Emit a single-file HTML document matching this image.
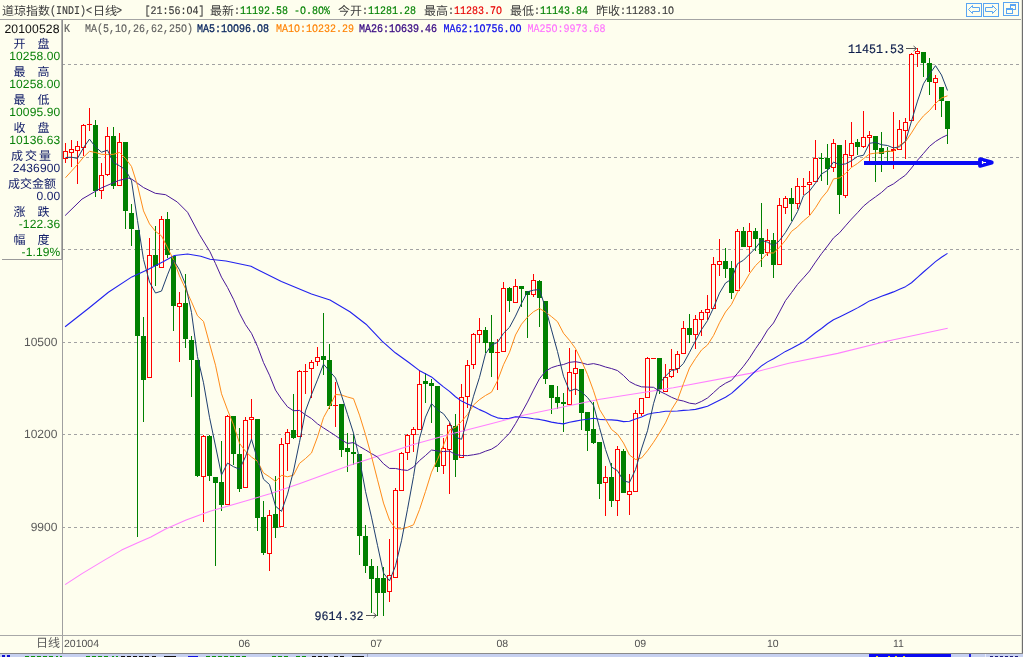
<!DOCTYPE html>
<html><head><meta charset="utf-8"><title>INDI</title>
<style>
html,body{margin:0;padding:0;background:#fefeee;overflow:hidden}
body{width:1023px;height:657px}
svg{display:block;will-change:transform}
text{-webkit-font-smoothing:antialiased;text-rendering:geometricPrecision}
.mo{font-family:"Liberation Mono",monospace;white-space:pre}
.sa{font-family:"Liberation Sans",sans-serif}
.ls{letter-spacing:0.12px}
.cj{font-family:"Liberation Sans","Noto Sans CJK SC",sans-serif}
</style></head><body>
<svg width="1023" height="657" viewBox="0 0 1023 657">
<rect x="0" y="0" width="1023" height="657" fill="#fefeee"/>
<g shape-rendering="crispEdges">
<rect x="0" y="19" width="1021" height="1" fill="#a4a4a4"/>
<line x1="62" x2="1020" y1="64.5" y2="64.5" stroke="#a2a2a2" stroke-width="1" stroke-dasharray="3 3"/>
<line x1="62" x2="1020" y1="157.5" y2="157.5" stroke="#a2a2a2" stroke-width="1" stroke-dasharray="3 3"/>
<line x1="62" x2="1020" y1="249.5" y2="249.5" stroke="#a2a2a2" stroke-width="1" stroke-dasharray="3 3"/>
<line x1="62" x2="1020" y1="342.5" y2="342.5" stroke="#a2a2a2" stroke-width="1" stroke-dasharray="3 3"/>
<line x1="62" x2="1020" y1="434.5" y2="434.5" stroke="#a2a2a2" stroke-width="1" stroke-dasharray="3 3"/>
<line x1="62" x2="1020" y1="527.5" y2="527.5" stroke="#a2a2a2" stroke-width="1" stroke-dasharray="3 3"/>
<rect x="61" y="20" width="1" height="240" fill="#b4b4b0"/><rect x="62" y="20" width="1" height="240" fill="#8c8c8c"/>
<rect x="2" y="259" width="61" height="1" fill="#9a9a9a"/>
<rect x="62" y="260" width="1" height="393" fill="#a0a0a0"/>
<rect x="0" y="635" width="1022" height="1" fill="#a8a8a8"/>
<rect x="1021" y="0" width="1" height="653" fill="#e4e4d8"/>
<rect x="1022" y="0" width="1" height="657" fill="#6e6e6e"/>
<rect x="0" y="653" width="1023" height="1" fill="#8a8a8a"/>
<rect x="0" y="654" width="1023" height="3" fill="#c6d0f0"/>
<rect x="869" y="654" width="82" height="3" fill="#0a0af0"/>
<rect x="969" y="654" width="2" height="3" fill="#2020e0"/>
<rect x="367" y="654" width="1" height="3" fill="#9aa0b8"/>
<rect x="985" y="654" width="1" height="3" fill="#e8ecf8"/>
<rect x="2" y="655" width="3" height="2" fill="#1010d0"/>
<rect x="7" y="655" width="3" height="2" fill="#1010d0"/>
<rect x="25" y="656" width="4" height="1" fill="#109010"/>
<rect x="31" y="656" width="4" height="1" fill="#109010"/>
<rect x="37" y="656" width="4" height="1" fill="#109010"/>
<rect x="43" y="656" width="4" height="1" fill="#109010"/>
<rect x="49" y="656" width="4" height="1" fill="#109010"/>
<rect x="56" y="656" width="2" height="1" fill="#109010"/>
<rect x="60" y="656" width="2" height="1" fill="#109010"/>
<rect x="86" y="656" width="4" height="1" fill="#109010"/>
<rect x="92" y="656" width="4" height="1" fill="#109010"/>
<rect x="98" y="656" width="4" height="1" fill="#109010"/>
<rect x="104" y="656" width="4" height="1" fill="#109010"/>
<rect x="112" y="656" width="2" height="1" fill="#109010"/>
<rect x="116" y="656" width="2" height="1" fill="#109010"/>
<rect x="121" y="656" width="4" height="1" fill="#101010"/>
<rect x="127" y="656" width="4" height="1" fill="#101010"/>
<rect x="133" y="656" width="4" height="1" fill="#101010"/>
<rect x="139" y="656" width="4" height="1" fill="#101010"/>
<rect x="145" y="656" width="4" height="1" fill="#101010"/>
<rect x="152" y="656" width="4" height="1" fill="#101010"/>
<rect x="164" y="656" width="6" height="1" fill="#101010"/>
<rect x="170" y="656" width="6" height="1" fill="#101010"/>
<rect x="188" y="656" width="10" height="1" fill="#1010e0"/>
<rect x="206" y="656" width="4" height="1" fill="#109010"/>
<rect x="212" y="656" width="4" height="1" fill="#109010"/>
<rect x="218" y="656" width="4" height="1" fill="#109010"/>
<rect x="224" y="656" width="4" height="1" fill="#109010"/>
<rect x="230" y="656" width="4" height="1" fill="#109010"/>
<rect x="236" y="656" width="4" height="1" fill="#109010"/>
<rect x="242" y="656" width="4" height="1" fill="#109010"/>
<rect x="272" y="656" width="4" height="1" fill="#109010"/>
<rect x="278" y="656" width="4" height="1" fill="#109010"/>
<rect x="284" y="656" width="4" height="1" fill="#109010"/>
<rect x="296" y="656" width="4" height="1" fill="#109010"/>
<rect x="302" y="656" width="4" height="1" fill="#109010"/>
<rect x="312" y="656" width="4" height="1" fill="#101010"/>
<rect x="318" y="656" width="4" height="1" fill="#101010"/>
<rect x="324" y="656" width="4" height="1" fill="#101010"/>
<rect x="334" y="656" width="4" height="1" fill="#101010"/>
<rect x="340" y="656" width="4" height="1" fill="#101010"/>
<rect x="352" y="656" width="6" height="1" fill="#101010"/>
<rect x="358" y="656" width="6" height="1" fill="#101010"/>
<rect x="876" y="656" width="2" height="1" fill="#f0e020"/>
<rect x="888" y="656" width="2" height="1" fill="#f0e020"/>
<rect x="895" y="656" width="2" height="1" fill="#f0e020"/>
<rect x="903" y="656" width="2" height="1" fill="#f0e020"/>
<rect x="990" y="656" width="3" height="1" fill="#202080"/>
<rect x="995" y="656" width="3" height="1" fill="#202080"/>
<rect x="1000" y="656" width="3" height="1" fill="#202080"/>
<rect x="1005" y="656" width="3" height="1" fill="#202080"/>
<rect x="1010" y="656" width="3" height="1" fill="#202080"/>
<rect x="1015" y="656" width="3" height="1" fill="#202080"/>
</g>
<g shape-rendering="crispEdges">
<rect x="65" y="143" width="1" height="8" fill="#ff0000"/>
<rect x="65" y="159" width="1" height="4" fill="#ff0000"/>
<rect x="63.5" y="151.5" width="4" height="7" fill="#fefeee" stroke="#ff0000" stroke-width="1"/>
<rect x="71" y="140" width="1" height="9" fill="#ff0000"/>
<rect x="71" y="153" width="1" height="14" fill="#ff0000"/>
<rect x="69.5" y="149.5" width="4" height="3" fill="#fefeee" stroke="#ff0000" stroke-width="1"/>
<rect x="77" y="141" width="1" height="5" fill="#ff0000"/>
<rect x="77" y="151" width="1" height="33" fill="#ff0000"/>
<rect x="75.5" y="146.5" width="4" height="4" fill="#fefeee" stroke="#ff0000" stroke-width="1"/>
<rect x="83" y="124" width="1" height="1" fill="#ff0000"/>
<rect x="83" y="148" width="1" height="8" fill="#ff0000"/>
<rect x="81.5" y="125.5" width="4" height="22" fill="#fefeee" stroke="#ff0000" stroke-width="1"/>
<rect x="89" y="108" width="1" height="16" fill="#ff0000"/>
<rect x="89" y="125" width="1" height="6" fill="#ff0000"/>
<rect x="87" y="124" width="5" height="1" fill="#ff0000"/>
<rect x="95" y="120" width="1" height="77" fill="#008000"/>
<rect x="93" y="125" width="5" height="66" fill="#008000"/>
<rect x="101" y="163" width="1" height="12" fill="#ff0000"/>
<rect x="101" y="191" width="1" height="8" fill="#ff0000"/>
<rect x="99.5" y="175.5" width="4" height="15" fill="#fefeee" stroke="#ff0000" stroke-width="1"/>
<rect x="107" y="127" width="1" height="9" fill="#ff0000"/>
<rect x="107" y="175" width="1" height="1" fill="#ff0000"/>
<rect x="105.5" y="136.5" width="4" height="38" fill="#fefeee" stroke="#ff0000" stroke-width="1"/>
<rect x="113" y="127" width="1" height="62" fill="#008000"/>
<rect x="111" y="136" width="5" height="50" fill="#008000"/>
<rect x="119" y="133" width="1" height="9" fill="#ff0000"/>
<rect x="117.5" y="142.5" width="4" height="43" fill="#fefeee" stroke="#ff0000" stroke-width="1"/>
<rect x="125" y="142" width="1" height="87" fill="#008000"/>
<rect x="123" y="142" width="5" height="69" fill="#008000"/>
<rect x="131" y="204" width="1" height="42" fill="#008000"/>
<rect x="129" y="213" width="5" height="16" fill="#008000"/>
<rect x="137" y="230" width="1" height="307" fill="#008000"/>
<rect x="135" y="230" width="5" height="106" fill="#008000"/>
<rect x="143" y="317" width="1" height="105" fill="#008000"/>
<rect x="141" y="336" width="5" height="44" fill="#008000"/>
<rect x="149" y="238" width="1" height="17" fill="#ff0000"/>
<rect x="147.5" y="255.5" width="4" height="122" fill="#fefeee" stroke="#ff0000" stroke-width="1"/>
<rect x="155" y="226" width="1" height="60" fill="#008000"/>
<rect x="153" y="255" width="5" height="11" fill="#008000"/>
<rect x="161" y="216" width="1" height="3" fill="#ff0000"/>
<rect x="159.5" y="219.5" width="4" height="48" fill="#fefeee" stroke="#ff0000" stroke-width="1"/>
<rect x="167" y="212" width="1" height="46" fill="#008000"/>
<rect x="165" y="219" width="5" height="36" fill="#008000"/>
<rect x="173" y="256" width="1" height="75" fill="#008000"/>
<rect x="171" y="256" width="5" height="50" fill="#008000"/>
<rect x="179" y="292" width="1" height="11" fill="#ff0000"/>
<rect x="179" y="307" width="1" height="55" fill="#ff0000"/>
<rect x="177.5" y="303.5" width="4" height="3" fill="#fefeee" stroke="#ff0000" stroke-width="1"/>
<rect x="185" y="274" width="1" height="74" fill="#008000"/>
<rect x="183" y="303" width="5" height="36" fill="#008000"/>
<rect x="191" y="336" width="1" height="61" fill="#008000"/>
<rect x="189" y="340" width="5" height="20" fill="#008000"/>
<rect x="197" y="360" width="1" height="117" fill="#008000"/>
<rect x="195" y="360" width="5" height="116" fill="#008000"/>
<rect x="203" y="435" width="1" height="1" fill="#ff0000"/>
<rect x="203" y="477" width="1" height="45" fill="#ff0000"/>
<rect x="201.5" y="436.5" width="4" height="40" fill="#fefeee" stroke="#ff0000" stroke-width="1"/>
<rect x="209" y="435" width="1" height="46" fill="#008000"/>
<rect x="207" y="436" width="5" height="40" fill="#008000"/>
<rect x="215" y="477" width="1" height="89" fill="#008000"/>
<rect x="213" y="477" width="5" height="6" fill="#008000"/>
<rect x="221" y="441" width="1" height="70" fill="#008000"/>
<rect x="219" y="482" width="5" height="23" fill="#008000"/>
<rect x="227" y="415" width="1" height="1" fill="#ff0000"/>
<rect x="225.5" y="416.5" width="4" height="88" fill="#fefeee" stroke="#ff0000" stroke-width="1"/>
<rect x="233" y="416" width="1" height="49" fill="#008000"/>
<rect x="231" y="416" width="5" height="38" fill="#008000"/>
<rect x="239" y="428" width="1" height="64" fill="#008000"/>
<rect x="237" y="454" width="5" height="35" fill="#008000"/>
<rect x="245" y="417" width="1" height="3" fill="#ff0000"/>
<rect x="243.5" y="420.5" width="4" height="67" fill="#fefeee" stroke="#ff0000" stroke-width="1"/>
<rect x="251" y="399" width="1" height="18" fill="#ff0000"/>
<rect x="251" y="420" width="1" height="20" fill="#ff0000"/>
<rect x="249.5" y="417.5" width="4" height="2" fill="#fefeee" stroke="#ff0000" stroke-width="1"/>
<rect x="257" y="419" width="1" height="112" fill="#008000"/>
<rect x="255" y="419" width="5" height="99" fill="#008000"/>
<rect x="263" y="501" width="1" height="54" fill="#008000"/>
<rect x="261" y="517" width="5" height="36" fill="#008000"/>
<rect x="269" y="510" width="1" height="5" fill="#ff0000"/>
<rect x="269" y="554" width="1" height="17" fill="#ff0000"/>
<rect x="267.5" y="515.5" width="4" height="38" fill="#fefeee" stroke="#ff0000" stroke-width="1"/>
<rect x="275" y="476" width="1" height="62" fill="#008000"/>
<rect x="273" y="514" width="5" height="14" fill="#008000"/>
<rect x="281" y="438" width="1" height="6" fill="#ff0000"/>
<rect x="279.5" y="444.5" width="4" height="82" fill="#fefeee" stroke="#ff0000" stroke-width="1"/>
<rect x="287" y="429" width="1" height="3" fill="#ff0000"/>
<rect x="287" y="444" width="1" height="27" fill="#ff0000"/>
<rect x="285.5" y="432.5" width="4" height="11" fill="#fefeee" stroke="#ff0000" stroke-width="1"/>
<rect x="293" y="394" width="1" height="45" fill="#008000"/>
<rect x="291" y="430" width="5" height="8" fill="#008000"/>
<rect x="299" y="370" width="1" height="1" fill="#ff0000"/>
<rect x="297.5" y="371.5" width="4" height="65" fill="#fefeee" stroke="#ff0000" stroke-width="1"/>
<rect x="305" y="364" width="1" height="7" fill="#ff0000"/>
<rect x="305" y="372" width="1" height="22" fill="#ff0000"/>
<rect x="303" y="371" width="5" height="1" fill="#ff0000"/>
<rect x="311" y="360" width="1" height="2" fill="#ff0000"/>
<rect x="311" y="369" width="1" height="29" fill="#ff0000"/>
<rect x="309.5" y="362.5" width="4" height="6" fill="#fefeee" stroke="#ff0000" stroke-width="1"/>
<rect x="317" y="347" width="1" height="10" fill="#ff0000"/>
<rect x="317" y="362" width="1" height="4" fill="#ff0000"/>
<rect x="315.5" y="357.5" width="4" height="4" fill="#fefeee" stroke="#ff0000" stroke-width="1"/>
<rect x="323" y="313" width="1" height="62" fill="#008000"/>
<rect x="321" y="356" width="5" height="4" fill="#008000"/>
<rect x="329" y="344" width="1" height="65" fill="#008000"/>
<rect x="327" y="360" width="5" height="46" fill="#008000"/>
<rect x="335" y="382" width="1" height="23" fill="#ff0000"/>
<rect x="335" y="406" width="1" height="21" fill="#ff0000"/>
<rect x="333" y="405" width="5" height="1" fill="#ff0000"/>
<rect x="341" y="404" width="1" height="53" fill="#008000"/>
<rect x="339" y="404" width="5" height="46" fill="#008000"/>
<rect x="347" y="433" width="1" height="39" fill="#008000"/>
<rect x="345" y="448" width="5" height="4" fill="#008000"/>
<rect x="353" y="434" width="1" height="31" fill="#008000"/>
<rect x="351" y="452" width="5" height="2" fill="#008000"/>
<rect x="359" y="454" width="1" height="101" fill="#008000"/>
<rect x="357" y="454" width="5" height="82" fill="#008000"/>
<rect x="365" y="525" width="1" height="48" fill="#008000"/>
<rect x="363" y="536" width="5" height="30" fill="#008000"/>
<rect x="371" y="559" width="1" height="54" fill="#008000"/>
<rect x="369" y="566" width="5" height="13" fill="#008000"/>
<rect x="377" y="566" width="1" height="50" fill="#008000"/>
<rect x="375" y="578" width="5" height="15" fill="#008000"/>
<rect x="383" y="567" width="1" height="49" fill="#008000"/>
<rect x="381" y="578" width="5" height="15" fill="#008000"/>
<rect x="389" y="539" width="1" height="36" fill="#ff0000"/>
<rect x="389" y="592" width="1" height="10" fill="#ff0000"/>
<rect x="387.5" y="575.5" width="4" height="16" fill="#fefeee" stroke="#ff0000" stroke-width="1"/>
<rect x="395" y="488" width="1" height="2" fill="#ff0000"/>
<rect x="393.5" y="490.5" width="4" height="87" fill="#fefeee" stroke="#ff0000" stroke-width="1"/>
<rect x="401" y="452" width="1" height="1" fill="#ff0000"/>
<rect x="399.5" y="453.5" width="4" height="37" fill="#fefeee" stroke="#ff0000" stroke-width="1"/>
<rect x="407" y="434" width="1" height="1" fill="#ff0000"/>
<rect x="407" y="453" width="1" height="7" fill="#ff0000"/>
<rect x="405.5" y="435.5" width="4" height="17" fill="#fefeee" stroke="#ff0000" stroke-width="1"/>
<rect x="413" y="427" width="1" height="2" fill="#ff0000"/>
<rect x="413" y="435" width="1" height="17" fill="#ff0000"/>
<rect x="411.5" y="429.5" width="4" height="5" fill="#fefeee" stroke="#ff0000" stroke-width="1"/>
<rect x="419" y="370" width="1" height="14" fill="#ff0000"/>
<rect x="417.5" y="384.5" width="4" height="45" fill="#fefeee" stroke="#ff0000" stroke-width="1"/>
<rect x="425" y="373" width="1" height="30" fill="#008000"/>
<rect x="423" y="381" width="5" height="3" fill="#008000"/>
<rect x="431" y="379" width="1" height="44" fill="#008000"/>
<rect x="429" y="383" width="5" height="3" fill="#008000"/>
<rect x="437" y="386" width="1" height="86" fill="#008000"/>
<rect x="435" y="386" width="5" height="81" fill="#008000"/>
<rect x="443" y="438" width="1" height="10" fill="#ff0000"/>
<rect x="443" y="466" width="1" height="8" fill="#ff0000"/>
<rect x="441.5" y="448.5" width="4" height="17" fill="#fefeee" stroke="#ff0000" stroke-width="1"/>
<rect x="449" y="423" width="1" height="2" fill="#ff0000"/>
<rect x="449" y="450" width="1" height="44" fill="#ff0000"/>
<rect x="447.5" y="425.5" width="4" height="24" fill="#fefeee" stroke="#ff0000" stroke-width="1"/>
<rect x="455" y="414" width="1" height="63" fill="#008000"/>
<rect x="453" y="426" width="5" height="34" fill="#008000"/>
<rect x="461" y="384" width="1" height="13" fill="#ff0000"/>
<rect x="459.5" y="397.5" width="4" height="60" fill="#fefeee" stroke="#ff0000" stroke-width="1"/>
<rect x="467" y="360" width="1" height="5" fill="#ff0000"/>
<rect x="467" y="397" width="1" height="11" fill="#ff0000"/>
<rect x="465.5" y="365.5" width="4" height="31" fill="#fefeee" stroke="#ff0000" stroke-width="1"/>
<rect x="473" y="333" width="1" height="1" fill="#ff0000"/>
<rect x="473" y="365" width="1" height="4" fill="#ff0000"/>
<rect x="471.5" y="334.5" width="4" height="30" fill="#fefeee" stroke="#ff0000" stroke-width="1"/>
<rect x="479" y="318" width="1" height="12" fill="#ff0000"/>
<rect x="479" y="335" width="1" height="8" fill="#ff0000"/>
<rect x="477.5" y="330.5" width="4" height="4" fill="#fefeee" stroke="#ff0000" stroke-width="1"/>
<rect x="485" y="327" width="1" height="26" fill="#008000"/>
<rect x="483" y="330" width="5" height="13" fill="#008000"/>
<rect x="491" y="315" width="1" height="62" fill="#008000"/>
<rect x="489" y="342" width="5" height="11" fill="#008000"/>
<rect x="497" y="339" width="1" height="13" fill="#ff0000"/>
<rect x="497" y="353" width="1" height="37" fill="#ff0000"/>
<rect x="495" y="352" width="5" height="1" fill="#ff0000"/>
<rect x="503" y="282" width="1" height="6" fill="#ff0000"/>
<rect x="501.5" y="288.5" width="4" height="63" fill="#fefeee" stroke="#ff0000" stroke-width="1"/>
<rect x="509" y="287" width="1" height="25" fill="#008000"/>
<rect x="507" y="288" width="5" height="13" fill="#008000"/>
<rect x="515" y="279" width="1" height="7" fill="#ff0000"/>
<rect x="513.5" y="286.5" width="4" height="16" fill="#fefeee" stroke="#ff0000" stroke-width="1"/>
<rect x="521" y="286" width="1" height="21" fill="#008000"/>
<rect x="519" y="286" width="5" height="3" fill="#008000"/>
<rect x="527" y="291" width="1" height="47" fill="#008000"/>
<rect x="525" y="291" width="5" height="4" fill="#008000"/>
<rect x="533" y="274" width="1" height="6" fill="#ff0000"/>
<rect x="533" y="295" width="1" height="2" fill="#ff0000"/>
<rect x="531.5" y="280.5" width="4" height="14" fill="#fefeee" stroke="#ff0000" stroke-width="1"/>
<rect x="539" y="280" width="1" height="47" fill="#008000"/>
<rect x="537" y="281" width="5" height="17" fill="#008000"/>
<rect x="545" y="301" width="1" height="83" fill="#008000"/>
<rect x="543" y="301" width="5" height="78" fill="#008000"/>
<rect x="551" y="385" width="1" height="29" fill="#008000"/>
<rect x="549" y="385" width="5" height="13" fill="#008000"/>
<rect x="557" y="386" width="1" height="23" fill="#008000"/>
<rect x="555" y="397" width="5" height="6" fill="#008000"/>
<rect x="563" y="393" width="1" height="39" fill="#008000"/>
<rect x="561" y="402" width="5" height="2" fill="#008000"/>
<rect x="569" y="348" width="1" height="24" fill="#ff0000"/>
<rect x="567.5" y="372.5" width="4" height="32" fill="#fefeee" stroke="#ff0000" stroke-width="1"/>
<rect x="575" y="350" width="1" height="18" fill="#ff0000"/>
<rect x="575" y="374" width="1" height="21" fill="#ff0000"/>
<rect x="573.5" y="368.5" width="4" height="5" fill="#fefeee" stroke="#ff0000" stroke-width="1"/>
<rect x="581" y="369" width="1" height="61" fill="#008000"/>
<rect x="579" y="369" width="5" height="44" fill="#008000"/>
<rect x="587" y="412" width="1" height="39" fill="#008000"/>
<rect x="585" y="412" width="5" height="19" fill="#008000"/>
<rect x="593" y="402" width="1" height="42" fill="#008000"/>
<rect x="591" y="429" width="5" height="14" fill="#008000"/>
<rect x="599" y="442" width="1" height="57" fill="#008000"/>
<rect x="597" y="442" width="5" height="42" fill="#008000"/>
<rect x="605" y="466" width="1" height="11" fill="#ff0000"/>
<rect x="605" y="483" width="1" height="33" fill="#ff0000"/>
<rect x="603.5" y="477.5" width="4" height="5" fill="#fefeee" stroke="#ff0000" stroke-width="1"/>
<rect x="611" y="463" width="1" height="44" fill="#008000"/>
<rect x="609" y="477" width="5" height="24" fill="#008000"/>
<rect x="617" y="446" width="1" height="3" fill="#ff0000"/>
<rect x="617" y="501" width="1" height="15" fill="#ff0000"/>
<rect x="615.5" y="449.5" width="4" height="51" fill="#fefeee" stroke="#ff0000" stroke-width="1"/>
<rect x="623" y="449" width="1" height="44" fill="#008000"/>
<rect x="621" y="451" width="5" height="42" fill="#008000"/>
<rect x="629" y="474" width="1" height="17" fill="#ff0000"/>
<rect x="629" y="495" width="1" height="20" fill="#ff0000"/>
<rect x="627.5" y="491.5" width="4" height="3" fill="#fefeee" stroke="#ff0000" stroke-width="1"/>
<rect x="635" y="410" width="1" height="3" fill="#ff0000"/>
<rect x="633.5" y="413.5" width="4" height="78" fill="#fefeee" stroke="#ff0000" stroke-width="1"/>
<rect x="641" y="414" width="1" height="2" fill="#ff0000"/>
<rect x="639.5" y="398.5" width="4" height="15" fill="#fefeee" stroke="#ff0000" stroke-width="1"/>
<rect x="647" y="357" width="1" height="1" fill="#ff0000"/>
<rect x="645.5" y="358.5" width="4" height="39" fill="#fefeee" stroke="#ff0000" stroke-width="1"/>
<rect x="651" y="358" width="5" height="1" fill="#ff0000"/>
<rect x="659" y="358" width="1" height="36" fill="#008000"/>
<rect x="657" y="358" width="5" height="32" fill="#008000"/>
<rect x="665" y="364" width="1" height="13" fill="#ff0000"/>
<rect x="663.5" y="377.5" width="4" height="14" fill="#fefeee" stroke="#ff0000" stroke-width="1"/>
<rect x="671" y="349" width="1" height="20" fill="#ff0000"/>
<rect x="671" y="377" width="1" height="1" fill="#ff0000"/>
<rect x="669.5" y="369.5" width="4" height="7" fill="#fefeee" stroke="#ff0000" stroke-width="1"/>
<rect x="677" y="351" width="1" height="3" fill="#ff0000"/>
<rect x="677" y="369" width="1" height="4" fill="#ff0000"/>
<rect x="675.5" y="354.5" width="4" height="14" fill="#fefeee" stroke="#ff0000" stroke-width="1"/>
<rect x="683" y="321" width="1" height="7" fill="#ff0000"/>
<rect x="681.5" y="328.5" width="4" height="25" fill="#fefeee" stroke="#ff0000" stroke-width="1"/>
<rect x="689" y="314" width="1" height="29" fill="#008000"/>
<rect x="687" y="328" width="5" height="7" fill="#008000"/>
<rect x="695" y="315" width="1" height="4" fill="#ff0000"/>
<rect x="695" y="335" width="1" height="14" fill="#ff0000"/>
<rect x="693.5" y="319.5" width="4" height="15" fill="#fefeee" stroke="#ff0000" stroke-width="1"/>
<rect x="701" y="310" width="1" height="2" fill="#ff0000"/>
<rect x="701" y="320" width="1" height="16" fill="#ff0000"/>
<rect x="699.5" y="312.5" width="4" height="7" fill="#fefeee" stroke="#ff0000" stroke-width="1"/>
<rect x="707" y="295" width="1" height="14" fill="#ff0000"/>
<rect x="707" y="313" width="1" height="7" fill="#ff0000"/>
<rect x="705.5" y="309.5" width="4" height="3" fill="#fefeee" stroke="#ff0000" stroke-width="1"/>
<rect x="713" y="257" width="1" height="7" fill="#ff0000"/>
<rect x="711.5" y="264.5" width="4" height="44" fill="#fefeee" stroke="#ff0000" stroke-width="1"/>
<rect x="719" y="239" width="1" height="22" fill="#ff0000"/>
<rect x="719" y="265" width="1" height="11" fill="#ff0000"/>
<rect x="717.5" y="261.5" width="4" height="3" fill="#fefeee" stroke="#ff0000" stroke-width="1"/>
<rect x="725" y="248" width="1" height="30" fill="#008000"/>
<rect x="723" y="261" width="5" height="8" fill="#008000"/>
<rect x="731" y="261" width="1" height="38" fill="#008000"/>
<rect x="729" y="268" width="5" height="25" fill="#008000"/>
<rect x="737" y="229" width="1" height="2" fill="#ff0000"/>
<rect x="735.5" y="231.5" width="4" height="59" fill="#fefeee" stroke="#ff0000" stroke-width="1"/>
<rect x="743" y="227" width="1" height="20" fill="#008000"/>
<rect x="741" y="231" width="5" height="16" fill="#008000"/>
<rect x="749" y="223" width="1" height="8" fill="#ff0000"/>
<rect x="749" y="247" width="1" height="25" fill="#ff0000"/>
<rect x="747.5" y="231.5" width="4" height="15" fill="#fefeee" stroke="#ff0000" stroke-width="1"/>
<rect x="755" y="228" width="1" height="23" fill="#008000"/>
<rect x="753" y="231" width="5" height="8" fill="#008000"/>
<rect x="761" y="203" width="1" height="64" fill="#008000"/>
<rect x="759" y="238" width="5" height="16" fill="#008000"/>
<rect x="767" y="229" width="1" height="11" fill="#ff0000"/>
<rect x="767" y="253" width="1" height="3" fill="#ff0000"/>
<rect x="765.5" y="240.5" width="4" height="12" fill="#fefeee" stroke="#ff0000" stroke-width="1"/>
<rect x="773" y="233" width="1" height="45" fill="#008000"/>
<rect x="771" y="240" width="5" height="25" fill="#008000"/>
<rect x="779" y="198" width="1" height="7" fill="#ff0000"/>
<rect x="777.5" y="205.5" width="4" height="59" fill="#fefeee" stroke="#ff0000" stroke-width="1"/>
<rect x="785" y="196" width="1" height="2" fill="#ff0000"/>
<rect x="785" y="208" width="1" height="6" fill="#ff0000"/>
<rect x="783.5" y="198.5" width="4" height="9" fill="#fefeee" stroke="#ff0000" stroke-width="1"/>
<rect x="791" y="188" width="1" height="33" fill="#008000"/>
<rect x="789" y="198" width="5" height="6" fill="#008000"/>
<rect x="797" y="178" width="1" height="8" fill="#ff0000"/>
<rect x="797" y="204" width="1" height="5" fill="#ff0000"/>
<rect x="795.5" y="186.5" width="4" height="17" fill="#fefeee" stroke="#ff0000" stroke-width="1"/>
<rect x="803" y="178" width="1" height="8" fill="#ff0000"/>
<rect x="803" y="187" width="1" height="8" fill="#ff0000"/>
<rect x="801" y="186" width="5" height="1" fill="#ff0000"/>
<rect x="809" y="171" width="1" height="11" fill="#ff0000"/>
<rect x="809" y="185" width="1" height="30" fill="#ff0000"/>
<rect x="807.5" y="182.5" width="4" height="2" fill="#fefeee" stroke="#ff0000" stroke-width="1"/>
<rect x="815" y="140" width="1" height="18" fill="#ff0000"/>
<rect x="813.5" y="158.5" width="4" height="23" fill="#fefeee" stroke="#ff0000" stroke-width="1"/>
<rect x="821" y="153" width="1" height="28" fill="#008000"/>
<rect x="819" y="158" width="5" height="1" fill="#008000"/>
<rect x="827" y="144" width="1" height="41" fill="#008000"/>
<rect x="825" y="158" width="5" height="11" fill="#008000"/>
<rect x="833" y="139" width="1" height="4" fill="#ff0000"/>
<rect x="833" y="168" width="1" height="4" fill="#ff0000"/>
<rect x="831.5" y="143.5" width="4" height="24" fill="#fefeee" stroke="#ff0000" stroke-width="1"/>
<rect x="839" y="145" width="1" height="69" fill="#008000"/>
<rect x="837" y="145" width="5" height="50" fill="#008000"/>
<rect x="845" y="140" width="1" height="14" fill="#ff0000"/>
<rect x="845" y="196" width="1" height="2" fill="#ff0000"/>
<rect x="843.5" y="154.5" width="4" height="41" fill="#fefeee" stroke="#ff0000" stroke-width="1"/>
<rect x="851" y="122" width="1" height="21" fill="#ff0000"/>
<rect x="851" y="156" width="1" height="11" fill="#ff0000"/>
<rect x="849.5" y="143.5" width="4" height="12" fill="#fefeee" stroke="#ff0000" stroke-width="1"/>
<rect x="857" y="139" width="1" height="16" fill="#008000"/>
<rect x="855" y="142" width="5" height="5" fill="#008000"/>
<rect x="863" y="111" width="1" height="26" fill="#ff0000"/>
<rect x="863" y="147" width="1" height="1" fill="#ff0000"/>
<rect x="861.5" y="137.5" width="4" height="9" fill="#fefeee" stroke="#ff0000" stroke-width="1"/>
<rect x="869" y="131" width="1" height="4" fill="#ff0000"/>
<rect x="869" y="138" width="1" height="23" fill="#ff0000"/>
<rect x="867.5" y="135.5" width="4" height="2" fill="#fefeee" stroke="#ff0000" stroke-width="1"/>
<rect x="875" y="136" width="1" height="46" fill="#008000"/>
<rect x="873" y="136" width="5" height="14" fill="#008000"/>
<rect x="881" y="132" width="1" height="40" fill="#008000"/>
<rect x="879" y="148" width="5" height="6" fill="#008000"/>
<rect x="887" y="147" width="1" height="14" fill="#008000"/>
<rect x="885" y="151" width="5" height="1" fill="#008000"/>
<rect x="893" y="112" width="1" height="37" fill="#ff0000"/>
<rect x="893" y="151" width="1" height="18" fill="#ff0000"/>
<rect x="891.5" y="149.5" width="4" height="1" fill="#fefeee" stroke="#ff0000" stroke-width="1"/>
<rect x="899" y="120" width="1" height="9" fill="#ff0000"/>
<rect x="897.5" y="129.5" width="4" height="20" fill="#fefeee" stroke="#ff0000" stroke-width="1"/>
<rect x="905" y="118" width="1" height="4" fill="#ff0000"/>
<rect x="905" y="131" width="1" height="28" fill="#ff0000"/>
<rect x="903.5" y="122.5" width="4" height="8" fill="#fefeee" stroke="#ff0000" stroke-width="1"/>
<rect x="911" y="53" width="1" height="1" fill="#ff0000"/>
<rect x="909.5" y="54.5" width="4" height="66" fill="#fefeee" stroke="#ff0000" stroke-width="1"/>
<rect x="917" y="48" width="1" height="3" fill="#ff0000"/>
<rect x="917" y="54" width="1" height="13" fill="#ff0000"/>
<rect x="915.5" y="51.5" width="4" height="2" fill="#fefeee" stroke="#ff0000" stroke-width="1"/>
<rect x="923" y="52" width="1" height="25" fill="#008000"/>
<rect x="921" y="52" width="5" height="11" fill="#008000"/>
<rect x="929" y="58" width="1" height="37" fill="#008000"/>
<rect x="927" y="63" width="5" height="19" fill="#008000"/>
<rect x="935" y="75" width="1" height="3" fill="#ff0000"/>
<rect x="935" y="83" width="1" height="27" fill="#ff0000"/>
<rect x="933.5" y="78.5" width="4" height="4" fill="#fefeee" stroke="#ff0000" stroke-width="1"/>
<rect x="941" y="87" width="1" height="30" fill="#008000"/>
<rect x="939" y="87" width="5" height="14" fill="#008000"/>
<rect x="947" y="101" width="1" height="43" fill="#008000"/>
<rect x="945" y="101" width="5" height="28" fill="#008000"/>
</g>
<polyline fill="none" stroke="#ff80ff" stroke-width="1.1" stroke-linejoin="round" points="65.1,584.6 82,573.6 104,560.4 121.6,550.1 137.7,542.8 150.9,536.9 165.6,528.9 186.1,520.1 210,511.3 249,500 270,493.8 300,483.5 350,465.2 413.3,444.5 450,434.3 490,424 523.3,415.2 600,399.3 673.3,387.7 750,373.4 788.9,363.2 837.7,353.4 886.6,341.2 947.7,328.2"/>
<polyline fill="none" stroke="#2222ee" stroke-width="1.1" stroke-linejoin="round" points="65.1,326.7 89.3,307.7 108.4,292.3 131.8,276.9 148,269.5 162.6,262.1 174.4,255.5 187.6,254 200.8,256.2 210,259.2 226,261 251,266.3 281.4,281.4 311.5,293.9 330,300 349.9,311.7 366,324.2 382.1,341.1 395.3,352.8 408.5,362.3 420.2,371.1 431.5,376.9 437.5,381.99 443.5,386.82 449.5,391.32 455.5,396.72 461.5,401.11 467.5,403.92 473.5,406.5 479.5,409.63 485.5,412.16 491.5,415.56 497.5,417.85 503.5,418.8 509.5,418.23 515.5,416.73 521.5,417.28 527.5,417.75 533.5,418.73 539.5,419.42 545.5,420.6 551.5,422.13 557.5,423.16 563.5,423.87 569.5,422.19 575.5,421.1 581.5,420.08 587.5,419.25 593.5,418.25 599.5,419.33 605.5,419.71 611.5,419.9 617.5,420.38 623.5,421.61 629.5,421.18 635.5,418.93 641.5,417.03 647.5,414.3 653.5,412.93 659.5,412.25 665.5,411.27 671.5,411.23 677.5,410.95 683.5,410.41 689.5,410.05 695.5,409.39 701.5,407.89 707.5,406.33 713.5,403.35 719.5,400.28 725.5,397.3 731.5,393.37 737.5,387.98 743.5,382.62 749.5,376.8 755.5,371.09 761.5,365.91 767.5,361.88 773.5,358.83 779.5,355.13 785.5,351.4 791.5,348.49 797.5,345.3 803.5,342.07 809.5,337.48 815.5,332.8 821.5,328.49 827.5,323.8 833.5,319.71 839.5,316.96 845.5,314.06 851.5,311.03 857.5,307.88 863.5,304.41 869.5,300.9 875.5,298.67 881.5,296.3 887.5,294.13 893.5,291.88 899.5,289.21 905.5,286.65 911.5,282.72 917.5,277.43 923.5,272.03 929.5,266.85 935.5,261.6 941.5,257.23 947.5,253.36"/>
<polyline fill="none" stroke="#4a1898" stroke-width="1.0" stroke-linejoin="round" points="65.1,215.6 82,199.1 101,188.1 118.6,180.5 128.9,178.1 131.8,179.2 143.6,187.6 155.3,193.3 165.6,194.7 177.3,202 187.6,212.3 199.3,234.3 210,251.8 215.5,263.57 221.5,277.17 227.5,287.44 233.5,299.3 239.5,313.28 245.5,324.63 251.5,333.34 257.5,346.53 263.5,362.55 269.5,375.23 275.5,390.08 281.5,399.03 287.5,406.82 293.5,410.72 299.5,410.4 305.5,414.87 311.5,418.57 317.5,423.87 323.5,427.9 329.5,431.75 335.5,435.65 341.5,439.91 347.5,443.44 353.5,442.59 359.5,446.44 365.5,449.9 371.5,453.6 377.5,456.97 383.5,463.75 389.5,468.41 395.5,468.46 401.5,469.76 407.5,470.44 413.5,467.04 419.5,460.55 425.5,455.5 431.5,450.04 437.5,450.93 443.5,451.58 449.5,451.1 455.5,454.52 461.5,455.5 467.5,455.63 473.5,454.75 479.5,453.62 485.5,451.19 491.5,449.18 497.5,445.45 503.5,439.17 509.5,433.28 515.5,423.67 521.5,413.03 527.5,402.1 533.5,390.1 539.5,378.75 545.5,371.22 551.5,367.66 557.5,365.72 563.5,364.53 569.5,362.32 575.5,361.7 581.5,362.82 587.5,364.54 593.5,363.62 599.5,364.98 605.5,366.99 611.5,368.56 617.5,370.59 623.5,375.51 629.5,381.55 635.5,384.74 641.5,386.85 647.5,387.07 653.5,387.3 659.5,391.2 665.5,394.12 671.5,397.28 677.5,399.77 683.5,401.07 689.5,403.17 695.5,404 701.5,401.42 707.5,397.99 713.5,392.67 719.5,387.18 725.5,383.22 731.5,380.32 737.5,373.33 743.5,366.26 749.5,358.13 755.5,348.71 761.5,340.12 767.5,330.1 773.5,323 779.5,311.91 785.5,300.64 791.5,292.58 797.5,284.46 803.5,277.81 809.5,271.02 815.5,262.11 821.5,253.7 827.5,246.02 833.5,237.93 839.5,232.8 845.5,225.85 851.5,219.06 857.5,212.72 863.5,206.13 869.5,201.16 875.5,196.87 881.5,192.46 887.5,187.02 893.5,183.87 899.5,179.35 905.5,175.13 911.5,168.02 917.5,160.23 923.5,153.4 929.5,146.37 935.5,141.49 941.5,137.75 947.5,134.86"/>
<polyline fill="none" stroke="#ff8c1a" stroke-width="1.0" stroke-linejoin="round" points="65.5,177.7 71.5,171.1 77.5,164.5 83.5,157.2 89.5,151.3 95.5,152.5 101.5,154.3 107.5,154.5 113.5,154.3 119.5,152.48 125.5,158.43 131.5,166.44 137.5,185.44 143.5,210.88 149.5,223.91 155.5,231.4 161.5,235.88 167.5,247.74 173.5,259.74 179.5,275.92 185.5,288.73 191.5,301.8 197.5,315.77 203.5,321.43 209.5,343.55 215.5,365.21 221.5,393.76 227.5,409.88 233.5,424.73 239.5,443.27 245.5,451.33 251.5,457.08 257.5,461.27 263.5,472.94 269.5,476.9 275.5,481.41 281.5,475.28 287.5,476.81 293.5,475.15 299.5,463.39 305.5,458.52 311.5,452.99 317.5,436.96 323.5,417.65 329.5,406.69 335.5,394.41 341.5,395.01 347.5,397.02 353.5,398.63 359.5,415.15 365.5,434.62 371.5,456.29 377.5,479.81 383.5,503.08 389.5,520.04 395.5,528.57 401.5,528.95 407.5,527.29 413.5,524.83 419.5,509.63 425.5,491.46 431.5,472.17 437.5,459.59 443.5,445.16 449.5,430.15 455.5,427.13 461.5,421.45 467.5,414.49 473.5,405 479.5,399.61 485.5,395.49 491.5,392.18 497.5,380.74 503.5,364.75 509.5,352.31 515.5,334.96 521.5,324.19 527.5,317.11 533.5,311.72 539.5,308.44 545.5,312.11 551.5,316.61 557.5,321.66 563.5,333.23 569.5,340.32 575.5,348.51 581.5,360.91 587.5,374.51 593.5,390.75 599.5,409.35 605.5,419.16 611.5,429.46 617.5,434.11 623.5,443.05 629.5,455 635.5,459.5 641.5,457.97 647.5,450.74 653.5,442.3 659.5,432.93 665.5,422.86 671.5,409.65 677.5,400.07 683.5,383.56 689.5,367.93 695.5,358.52 701.5,349.99 707.5,345.01 713.5,335.62 719.5,322.76 725.5,311.97 731.5,304.39 737.5,292.17 743.5,284.01 749.5,273.65 755.5,265.6 761.5,259.78 767.5,252.94 773.5,252.97 779.5,247.36 785.5,240.3 791.5,231.4 797.5,226.89 803.5,220.77 809.5,215.8 815.5,207.77 821.5,198.18 827.5,191.04 833.5,178.91 839.5,177.87 845.5,173.48 851.5,167.36 857.5,163.48 863.5,158.64 869.5,154 875.5,153.12 881.5,152.74 887.5,151 893.5,151.59 899.5,145.04 905.5,141.76 911.5,132.89 917.5,123.29 923.5,115.85 929.5,110.51 935.5,103.39 941.5,98.04 947.5,95.79"/>
<polyline fill="none" stroke="#1f3f6f" stroke-width="1.0" stroke-linejoin="round" points="65.5,157.5 71.5,157.2 77.5,158.4 83.5,147.7 89.5,139.14 95.5,147.08 101.5,152.18 107.5,150.26 113.5,162.36 119.5,165.82 125.5,169.78 131.5,180.7 137.5,220.62 143.5,259.4 149.5,282 155.5,293.02 161.5,291.06 167.5,274.86 173.5,260.08 179.5,269.84 185.5,284.44 191.5,312.54 197.5,356.68 203.5,382.78 209.5,417.26 215.5,445.98 221.5,474.98 227.5,463.08 233.5,466.68 239.5,469.28 245.5,456.68 251.5,439.18 257.5,459.46 263.5,479.2 269.5,484.52 275.5,506.14 281.5,511.38 287.5,494.16 293.5,471.1 299.5,442.26 305.5,410.9 311.5,394.6 317.5,379.76 323.5,364.2 329.5,371.12 335.5,377.92 341.5,395.42 347.5,414.28 353.5,433.06 359.5,459.18 365.5,491.32 371.5,517.16 377.5,545.34 383.5,573.1 389.5,580.9 395.5,565.82 401.5,540.74 407.5,509.24 413.5,476.56 419.5,438.36 425.5,417.1 431.5,403.6 437.5,409.94 443.5,413.76 449.5,421.94 455.5,437.16 461.5,439.3 467.5,419.04 473.5,396.24 479.5,377.28 485.5,353.82 491.5,345.06 497.5,342.44 503.5,333.26 509.5,327.34 515.5,316.1 521.5,303.32 527.5,291.78 533.5,290.18 539.5,289.54 545.5,308.12 551.5,329.9 557.5,351.54 563.5,376.28 569.5,391.1 575.5,388.9 581.5,391.92 587.5,397.48 593.5,405.22 599.5,427.6 605.5,449.42 611.5,467 617.5,470.74 623.5,480.88 629.5,482.4 635.5,469.58 641.5,448.94 647.5,430.74 653.5,403.72 659.5,383.46 665.5,376.14 671.5,370.36 677.5,369.4 683.5,363.4 689.5,352.4 695.5,340.9 701.5,329.62 707.5,320.62 713.5,307.84 719.5,293.12 725.5,283.04 731.5,279.16 737.5,263.72 743.5,260.18 749.5,254.18 755.5,248.16 761.5,240.4 767.5,242.16 773.5,245.76 779.5,240.54 785.5,232.44 791.5,222.4 797.5,211.62 803.5,195.78 809.5,191.06 815.5,183.1 821.5,173.96 827.5,170.46 833.5,162.04 839.5,164.68 845.5,163.86 851.5,160.76 857.5,156.5 863.5,155.24 869.5,143.32 875.5,142.38 881.5,144.72 887.5,145.5 893.5,147.94 899.5,146.76 905.5,141.14 911.5,121.06 917.5,101.08 923.5,83.76 929.5,74.26 935.5,65.64 941.5,75.02 947.5,90.5"/>
<rect x="864" y="161" width="116" height="4" fill="#0a0af5" shape-rendering="crispEdges"/>
<path d="M980.1 159.3 L991.7 162.55 L980.1 165.8 Z" fill="#0a0af5" stroke="#0a0af5" stroke-width="4" stroke-linejoin="round"/>
<path d="M981.9 161.1 h1.3 v0.9 h2.8 v1 h-2.8 v0.9 h-1.3 Z" fill="#fefeee"/>
<text class="mo" xml:space="preserve" font-size="12.8" transform="translate(848,52.8) scale(0.9113,1)" fill="#0e1e4c" stroke="#0e1e4c" stroke-width="0.2">11451.53</text>
<path d="M906 48.5 H916.5 M913.5 46 L916.5 48.5 L913.5 51" fill="none" stroke="#555" stroke-width="1"/>
<text class="mo" xml:space="preserve" font-size="12.8" transform="translate(314.5,619.8) scale(0.9113,1)" fill="#0e1e4c" stroke="#0e1e4c" stroke-width="0.2">9614.32</text>
<path d="M366 615.5 H376.5 M373.5 613 L376.5 615.5 L373.5 618" fill="none" stroke="#555" stroke-width="1"/>
<text class="mo" xml:space="preserve" font-size="11.6" transform="translate(50,14) scale(0.8619,1)" fill="#3c3c3c" stroke="#3c3c3c" stroke-width="0.15">(INDI)&lt;</text>
<text class="mo" xml:space="preserve" font-size="11.6" transform="translate(116,14) scale(0.8619,1)" fill="#3c3c3c" stroke="#3c3c3c" stroke-width="0.15">&gt;</text>
<text class="cj" font-size="12" x="2" y="14.5" fill="#3c3c3c">道琼指数</text>
<text class="cj" font-size="12" x="93" y="14.5" fill="#3c3c3c">日线</text>
<text class="mo" xml:space="preserve" font-size="11.6" transform="translate(144.5,14) scale(0.8619,1)" fill="#3c3c3c" stroke="#3c3c3c" stroke-width="0.15">[21:56:O4]</text>
<text class="mo" xml:space="preserve" font-size="11.6" transform="translate(234,14) scale(0.8619,1)" fill="#3c3c3c" stroke="#3c3c3c" stroke-width="0.15">:</text>
<text class="cj" font-size="12" x="210" y="14.5" fill="#3c3c3c">最新</text>
<text class="mo" xml:space="preserve" font-size="11.6" transform="translate(240,14) scale(0.8619,1)" fill="#008000" stroke="#008000" stroke-width="0.15">11192.58 -O.8O%</text>
<text class="mo" xml:space="preserve" font-size="11.6" transform="translate(362,14) scale(0.8619,1)" fill="#3c3c3c" stroke="#3c3c3c" stroke-width="0.15">:</text>
<text class="cj" font-size="12" x="338" y="14.5" fill="#3c3c3c">今开</text>
<text class="mo" xml:space="preserve" font-size="11.6" transform="translate(368,14) scale(0.8619,1)" fill="#008000" stroke="#008000" stroke-width="0.15">11281.28</text>
<text class="mo" xml:space="preserve" font-size="11.6" transform="translate(448,14) scale(0.8619,1)" fill="#3c3c3c" stroke="#3c3c3c" stroke-width="0.15">:</text>
<text class="cj" font-size="12" x="424" y="14.5" fill="#3c3c3c">最高</text>
<text class="mo" xml:space="preserve" font-size="11.6" transform="translate(454,14) scale(0.8619,1)" fill="#e80000" stroke="#e80000" stroke-width="0.15">11283.7O</text>
<text class="mo" xml:space="preserve" font-size="11.6" transform="translate(534,14) scale(0.8619,1)" fill="#3c3c3c" stroke="#3c3c3c" stroke-width="0.15">:</text>
<text class="cj" font-size="12" x="510" y="14.5" fill="#3c3c3c">最低</text>
<text class="mo" xml:space="preserve" font-size="11.6" transform="translate(540,14) scale(0.8619,1)" fill="#008000" stroke="#008000" stroke-width="0.15">11143.84</text>
<text class="mo" xml:space="preserve" font-size="11.6" transform="translate(620,14) scale(0.8619,1)" fill="#3c3c3c" stroke="#3c3c3c" stroke-width="0.15">:</text>
<text class="cj" font-size="12" x="596" y="14.5" fill="#3c3c3c">昨收</text>
<text class="mo" xml:space="preserve" font-size="11.6" transform="translate(626,14) scale(0.8619,1)" fill="#3c3c3c" stroke="#3c3c3c" stroke-width="0.15">11283.1O</text>
<text class="mo" xml:space="preserve" font-size="11.6" transform="translate(64,32) scale(0.8619,1)" fill="#606060" stroke="#606060" stroke-width="0.15">K</text>
<text class="mo" xml:space="preserve" font-size="11.6" transform="translate(85,32) scale(0.8619,1)" fill="#606060" stroke="#606060" stroke-width="0.15">MA(5,1O,26,62,25O)</text>
<text class="mo" xml:space="preserve" font-size="11.6" transform="translate(197,32) scale(0.8619,1)" fill="#0c2860" stroke="#0c2860" stroke-width="0.3">MA5:1OO96.O8</text>
<text class="mo" xml:space="preserve" font-size="11.6" transform="translate(276,32) scale(0.8619,1)" fill="#ff8000" stroke="#ff8000" stroke-width="0.15">MA1O:1O232.29</text>
<text class="mo" xml:space="preserve" font-size="11.6" transform="translate(359,32) scale(0.8619,1)" fill="#3a0c84" stroke="#3a0c84" stroke-width="0.3">MA26:1O639.46</text>
<text class="mo" xml:space="preserve" font-size="11.6" transform="translate(443.5,32) scale(0.8619,1)" fill="#1010e8" stroke="#1010e8" stroke-width="0.25">MA62:1O756.OO</text>
<text class="mo" xml:space="preserve" font-size="11.6" transform="translate(527.5,32) scale(0.8619,1)" fill="#ff70ff" stroke="#ff70ff" stroke-width="0.15">MA25O:9973.68</text>
<text class="sa ls" font-size="12.2" x="4.4" y="33.3" fill="#101010" text-anchor="start">20100528</text>
<text class="cj" font-size="12" x="13.5" y="47.5" fill="#15206a">开</text>
<text class="cj" font-size="12" x="37.5" y="47.5" fill="#15206a">盘</text>
<text class="sa ls" font-size="12" x="60.3" y="59.93" fill="#088008" text-anchor="end">10258.00</text>
<text class="cj" font-size="12" x="13.5" y="75.5" fill="#15206a">最</text>
<text class="cj" font-size="12" x="37.5" y="75.5" fill="#15206a">高</text>
<text class="sa ls" font-size="12" x="60.3" y="87.99" fill="#088008" text-anchor="end">10258.00</text>
<text class="cj" font-size="12" x="13.5" y="103.5" fill="#15206a">最</text>
<text class="cj" font-size="12" x="37.5" y="103.5" fill="#15206a">低</text>
<text class="sa ls" font-size="12" x="60.3" y="116.05" fill="#088008" text-anchor="end">10095.90</text>
<text class="cj" font-size="12" x="13.5" y="131.5" fill="#15206a">收</text>
<text class="cj" font-size="12" x="37.5" y="131.5" fill="#15206a">盘</text>
<text class="sa ls" font-size="12" x="60.3" y="144.11" fill="#088008" text-anchor="end">10136.63</text>
<text class="cj" font-size="12" x="11" y="159.5" fill="#15206a" letter-spacing="2">成交量</text>
<text class="sa ls" font-size="12" x="60.3" y="172.17" fill="#15206a" text-anchor="end">2436900</text>
<text class="cj" font-size="12" x="8" y="187.5" fill="#15206a">成交金额</text>
<text class="sa ls" font-size="12" x="60.3" y="200.23" fill="#15206a" text-anchor="end">0.00</text>
<text class="cj" font-size="12" x="13.5" y="215.5" fill="#15206a">涨</text>
<text class="cj" font-size="12" x="37.5" y="215.5" fill="#15206a">跌</text>
<text class="sa ls" font-size="12" x="60.3" y="228.29" fill="#088008" text-anchor="end">-122.36</text>
<text class="cj" font-size="12" x="13.5" y="243.5" fill="#15206a">幅</text>
<text class="cj" font-size="12" x="37.5" y="243.5" fill="#15206a">度</text>
<text class="sa ls" font-size="12" x="60.3" y="256.35" fill="#088008" text-anchor="end">-1.19%</text>
<text class="sa" font-size="12" x="57.4" y="346.4" fill="#5a5a5a" text-anchor="end">10500</text>
<text class="sa" font-size="12" x="57.4" y="438.4" fill="#5a5a5a" text-anchor="end">10200</text>
<text class="sa" font-size="12" x="57.4" y="531.4" fill="#5a5a5a" text-anchor="end">9900</text>
<text class="cj" font-size="12" x="36" y="647" fill="#5a5a5a">日线</text>
<text class="sa" font-size="10.5" x="64" y="646.8" fill="#505050" text-anchor="start">201004</text>
<text class="sa" font-size="10.5" x="238.5" y="646.8" fill="#505050" text-anchor="start">06</text>
<text class="sa" font-size="10.5" x="370.5" y="646.8" fill="#505050" text-anchor="start">07</text>
<text class="sa" font-size="10.5" x="496.5" y="646.8" fill="#505050" text-anchor="start">08</text>
<text class="sa" font-size="10.5" x="634.5" y="646.8" fill="#505050" text-anchor="start">09</text>
<text class="sa" font-size="10.5" x="767" y="646.8" fill="#505050" text-anchor="start">10</text>
<text class="sa" font-size="10.5" x="893" y="646.8" fill="#505050" text-anchor="start">11</text>
<g fill="none" stroke="#5aa5f2" stroke-width="1" shape-rendering="crispEdges">
<rect x="966.5" y="3.5" width="15" height="13"/>
<rect x="983.5" y="3.5" width="15" height="13"/>
<rect x="1003.5" y="2.5" width="15" height="13"/>
<rect x="1010.5" y="5" width="5" height="4" stroke-width="1"/><rect x="1010" y="4" width="6" height="2" fill="#5aa5f2" stroke="none"/>
<rect x="1006.5" y="9.5" width="6" height="4" fill="#fefeee"/><rect x="1006" y="8" width="7" height="2" fill="#5aa5f2" stroke="none"/>
</g>
<g fill="none" stroke="#5aa5f2" stroke-width="1">
<path d="M968.5 9.5 L972.5 5.5 V7.5 H979.5 V11.5 H972.5 V13.5 Z"/>
<path d="M996.5 9.5 L992.5 5.5 V7.5 H985.5 V11.5 H992.5 V13.5 Z"/>
</g>
</svg>
</body></html>
